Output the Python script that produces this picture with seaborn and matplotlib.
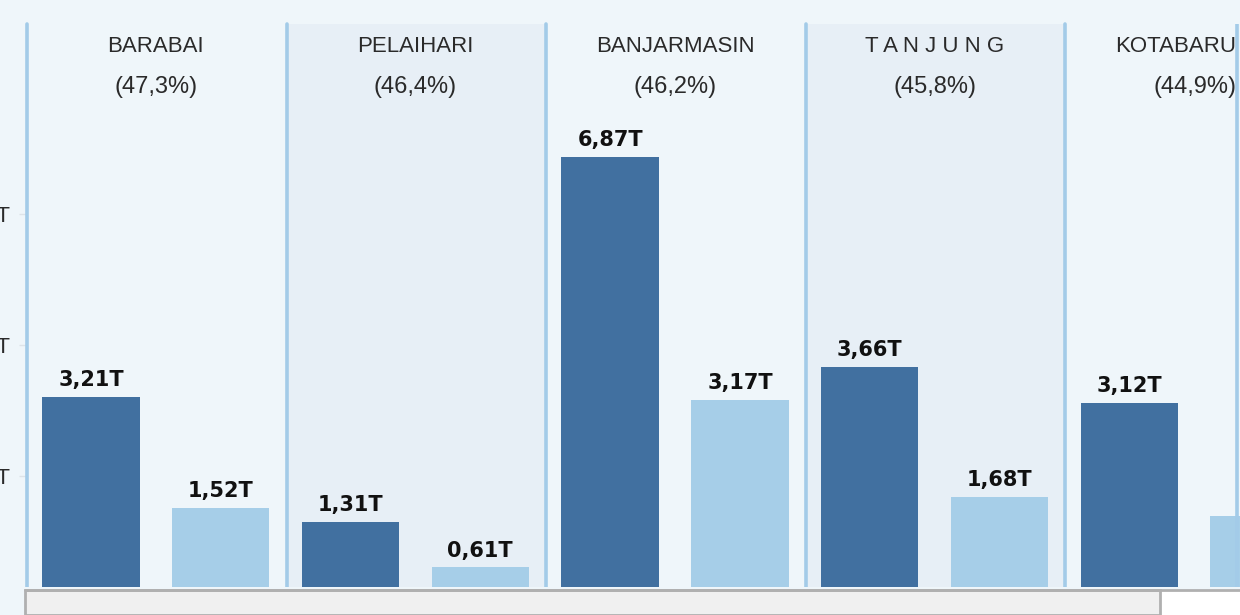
"""Target vs realisasi per kota, panel style like a Tableau dashboard."""

import matplotlib
matplotlib.use("Agg")
import matplotlib.pyplot as plt
from matplotlib.patches import Rectangle
from matplotlib.transforms import blended_transform_factory
import pandas as pd
import seaborn as sns

kota = ["BARABAI", "PELAIHARI", "BANJARMASIN", "T A N J U N G", "KOTABARU"]
persen = ["(47,3%)", "(46,4%)", "(46,2%)", "(45,8%)", "(44,9%)"]
target = [3.21, 1.31, 6.87, 3.66, 3.12]
realisasi = [1.52, 0.61, 3.17, 1.68, 1.40]
y_ticks = [2, 4, 6]
y_tick_labels = ["2T", "4T", "6T"]

DARK = "#4170A0"
LIGHT = "#A6CEE8"
BG = "#EFF6FA"
BG_ALT = "#E7EFF6"
SEP = "#A3CBE8"


def fmt(v):
    return f"{v:.2f}".replace(".", ",") + "T"


def main():
    sns.set_theme(style="white")
    plt.rcParams["font.family"] = ["Liberation Sans Narrow", "Liberation Sans", "DejaVu Sans"]

    df = pd.DataFrame({
        "kota": kota * 2,
        "nilai": target + realisasi,
        "jenis": ["Target"] * len(kota) + ["Realisasi"] * len(kota),
    })

    W, H = 1240, 615
    fig = plt.figure(figsize=(W / 100, H / 100), dpi=100, facecolor=BG)
    left_px, base_px, top_px = 26, 607.5, 24
    ax = fig.add_axes([left_px / W, (H - base_px) / H, (W - left_px) / W, (base_px - top_px) / H])
    ax.set_facecolor(BG)

    panel_w = 259.6
    xmax = -0.5 + (W - left_px) / panel_w

    # alternating panel shading
    for i in range(len(kota)):
        if i % 2 == 1:
            ax.axvspan(i - 0.5, i + 0.5, color=BG_ALT, zorder=0, lw=0)

    sns.barplot(data=df, x="kota", y="nilai", hue="jenis", palette=[DARK, LIGHT],
                width=1.0, gap=0.25, saturation=1, legend=False, ax=ax, zorder=2,
                linewidth=0, edgecolor="none")

    for cont, vals in zip(ax.containers, [target, realisasi]):
        ax.bar_label(cont, labels=[fmt(v) for v in vals], padding=5,
                     fontsize=15, fontweight="bold", family="DejaVu Sans", color="#111111")

    for i in range(len(kota)):
        ax.axvline(i - 0.5 + 0.004, color=SEP, lw=2.6, zorder=3, clip_on=False)
    ax.axvline(xmax - 0.01, color=SEP, lw=2.6, zorder=3)

    trans = blended_transform_factory(ax.transData, ax.transAxes)
    ah = base_px - top_px
    for i, (k, p) in enumerate(zip(kota, persen)):
        x, ha = i, "center"
        if i == len(kota) - 1:
            x, ha = xmax - 0.015, "right"
        ax.text(x, (base_px - 47) / ah, k, ha=ha, va="center", fontsize=16,
                color="#2A2A2A", transform=trans)
        ax.text(x, (base_px - 87) / ah, p, ha=ha, va="center", fontsize=17,
                color="#2A2A2A", transform=trans)

    ax.set_xlim(-0.5, xmax)
    ax.set_ylim(0, (base_px - top_px) / 65.6)
    ax.set_yticks(y_ticks)
    ax.set_yticklabels(y_tick_labels, fontsize=16, color="#2A2A2A")
    ax.tick_params(axis="y", length=5, width=1, color="#DDE3E8", pad=6, left=True)
    ax.set_xticks([])
    ax.set_xlabel("")
    ax.set_ylabel("")
    for s in ax.spines.values():
        s.set_visible(False)

    # thin gap above the scrollbar, then the horizontal scrollbar strip
    fig.add_artist(Rectangle((0, 25 / H), 1, 3 / H, transform=fig.transFigure,
                             facecolor=BG, edgecolor="none", zorder=4))
    fig.add_artist(Rectangle((1161 / W, 0), (W - 1161) / W, 25 / H, transform=fig.transFigure,
                             facecolor="white", edgecolor="none", zorder=5))
    fig.add_artist(Rectangle((25 / W, 0), (1160 - 25) / W, 25 / H, transform=fig.transFigure,
                             facecolor="#F0F0F0", edgecolor="#B0B0B0", lw=2, zorder=6))
    fig.add_artist(plt.Line2D([25 / W, 1], [25 / H, 25 / H], transform=fig.transFigure,
                              color="#B0B0B0", lw=2, zorder=7))

    fig.savefig("out.png", dpi=100, facecolor=BG)


if __name__ == "__main__":
    main()
